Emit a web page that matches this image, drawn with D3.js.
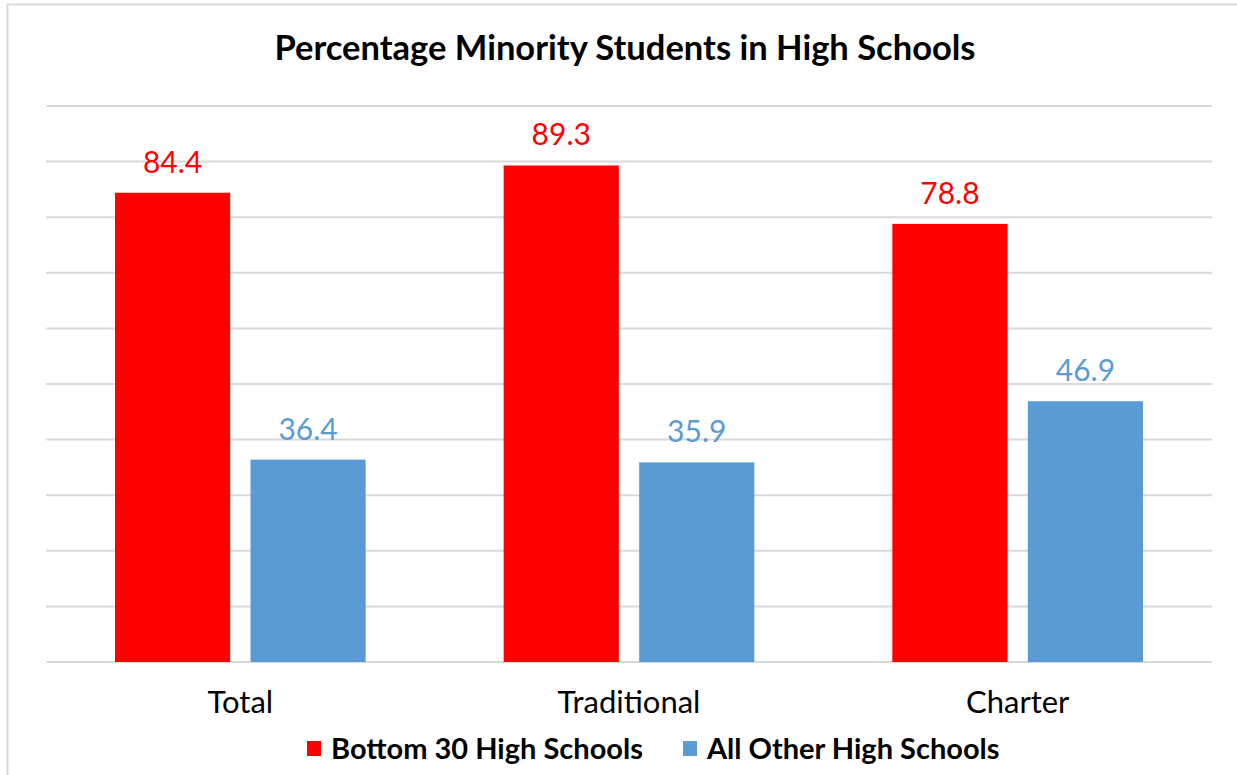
<!DOCTYPE html>
<html>
<head>
<meta charset="utf-8">
<script src="https://cdn.jsdelivr.net/npm/d3@7"></script>
<style>
  html, body { margin: 0; padding: 0; background: #fff; }
  svg { display: block; font-family: Lato, "Open Sans", sans-serif; }
</style>
</head>
<body>
<svg id="chart" width="1237" height="775"></svg>
<script>
// Chart data
const categories = ["Total", "Traditional", "Charter"];
const seriesNames = ["Bottom 30 High Schools", "All Other High Schools"];
const bottom30 = [84.4, 89.3, 78.8];
const allOther = [36.4, 35.9, 46.9];
const yTicks = [0, 10, 20, 30, 40, 50, 60, 70, 80, 90, 100];
const seriesColors = ["#FF0000", "#5B9BD5"];

const svg = d3.select("#chart");
const plot = { left: 46, right: 1212, top: 106, bottom: 662 };

// Outer chart frame (extends past the right and bottom edges)
svg.append("rect")
  .attr("x", 7.5).attr("y", 4.5)
  .attr("width", 1400).attr("height", 900)
  .attr("fill", "#fff")
  .attr("stroke", "#d9d9d9").attr("stroke-width", 2);

const x0 = d3.scaleBand().domain(categories).range([plot.left, plot.right]).paddingInner(0).paddingOuter(0);
const groupPad = 69;
const x1 = d3.scaleBand().domain(seriesNames)
  .range([groupPad, x0.bandwidth() - groupPad]).paddingInner(0.15);
const y = d3.scaleLinear().domain([0, 100]).range([plot.bottom, plot.top]);

// Horizontal gridlines
svg.append("g").selectAll("line").data(yTicks).join("line")
  .attr("x1", plot.left).attr("x2", plot.right)
  .attr("y1", d => y(d)).attr("y2", d => y(d))
  .attr("stroke", "#d9d9d9").attr("stroke-width", 2);

const rows = categories.map((c, i) => ({ cat: c, vals: [bottom30[i], allOther[i]] }));

const groups = svg.append("g").selectAll("g").data(rows).join("g")
  .attr("transform", d => `translate(${x0(d.cat)},0)`);

groups.selectAll("rect").data(d => d.vals.map((v, j) => ({ v, j })))
  .join("rect")
  .attr("x", d => x1(seriesNames[d.j]))
  .attr("width", x1.bandwidth())
  .attr("y", d => y(d.v))
  .attr("height", d => y(0) - y(d.v))
  .attr("fill", d => seriesColors[d.j]);

// Value labels above each bar
groups.selectAll("text").data(d => d.vals.map((v, j) => ({ v, j })))
  .join("text")
  .attr("x", d => x1(seriesNames[d.j]) + x1.bandwidth() / 2)
  .attr("y", d => y(d.v) - 20)
  .attr("text-anchor", "middle")
  .attr("font-size", 30)
  .attr("fill", d => seriesColors[d.j])
  .text(d => d.v.toFixed(1));

// Category axis labels
const xAxis = d3.axisBottom(x0).tickSize(0).tickPadding(0);
const axG = svg.append("g").attr("transform", `translate(0,${plot.bottom})`).call(xAxis);
axG.select(".domain").remove();
axG.selectAll("text")
  .attr("dy", 0).attr("y", 51)
  .attr("font-size", 31).attr("font-family", "Lato, 'Open Sans', sans-serif")
  .attr("fill", "#000");

// Title
svg.append("text")
  .attr("x", 625).attr("y", 60)
  .attr("text-anchor", "middle")
  .attr("font-size", 34.5).attr("font-weight", "bold")
  .attr("fill", "#000")
  .text("Percentage Minority Students in High Schools");

// Legend
const legendItems = [
  { name: seriesNames[0], color: seriesColors[0], x: 307 },
  { name: seriesNames[1], color: seriesColors[1], x: 683 }
];
const lg = svg.append("g").selectAll("g").data(legendItems).join("g")
  .attr("transform", d => `translate(${d.x},741)`);
lg.append("rect").attr("width", 14).attr("height", 15).attr("fill", d => d.color);
lg.append("text").attr("x", 24).attr("y", 18)
  .attr("font-size", 29).attr("font-weight", "bold").attr("fill", "#000")
  .text(d => d.name);
</script>
</body>
</html>
